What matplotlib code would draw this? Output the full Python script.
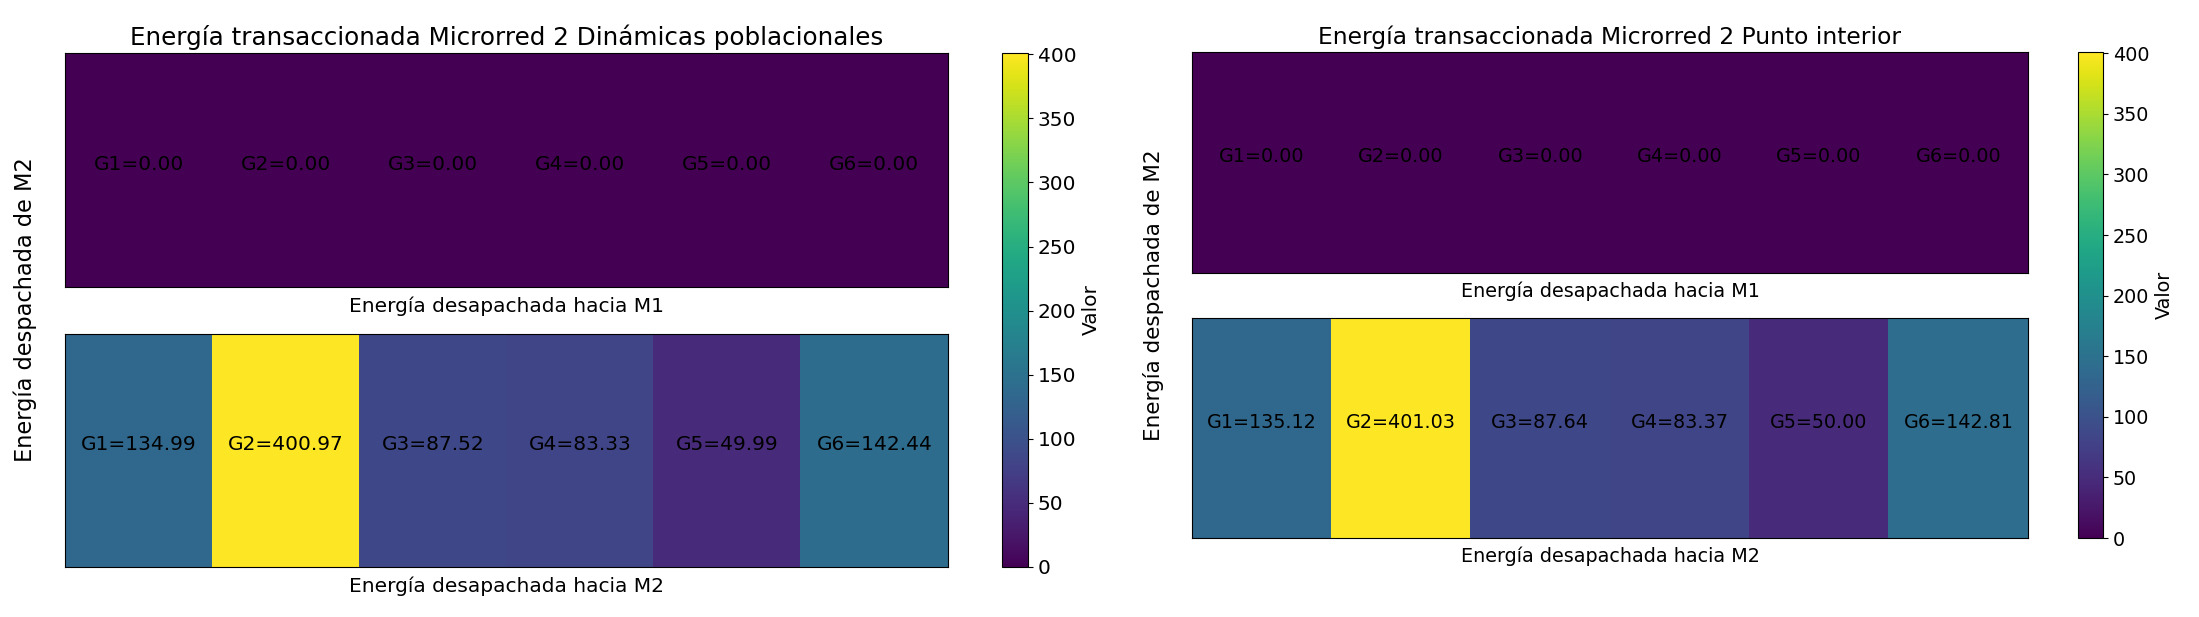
import matplotlib
matplotlib.use("Agg")
import matplotlib.pyplot as plt
import numpy as np

# Valores de energia por generador (G1..G6)
generadores = ["G1", "G2", "G3", "G4", "G5", "G6"]
dp_hacia_m1 = [0.00, 0.00, 0.00, 0.00, 0.00, 0.00]
dp_hacia_m2 = [134.99, 400.97, 87.52, 83.33, 49.99, 142.44]
pi_hacia_m1 = [0.00, 0.00, 0.00, 0.00, 0.00, 0.00]
pi_hacia_m2 = [135.12, 401.03, 87.64, 83.37, 50.00, 142.81]

titulos = ["Energía transaccionada Microrred 2 Dinámicas poblacionales",
           "Energía transaccionada Microrred 2 Punto interior"]
xlabels = ["Energía desapachada hacia M1", "Energía desapachada hacia M2"]
ylabel = "Energía despachada de M2"

W, H = 2199, 617
fig = plt.figure(figsize=(W / 100, H / 100), dpi=100)


def caja(x0, y0, x1, y1):
    # pixeles (origen arriba a la izquierda) -> fracciones de figura
    return [x0 / W, 1 - y1 / H, (x1 - x0) / W, (y1 - y0) / H]


def panel(filas, titulo, hm_x, top_y, bot_y, cb_x, ylab_x, fs, lbl_pad):
    vmax = max(max(f) for f in filas)
    ims = []
    axes = [fig.add_axes(caja(hm_x[0], top_y[0], hm_x[1], top_y[1])),
            fig.add_axes(caja(hm_x[0], bot_y[0], hm_x[1], bot_y[1]))]
    for ax, fila, xl in zip(axes, filas, xlabels):
        datos = np.array([fila])
        im = ax.imshow(datos, cmap="viridis", aspect="auto", vmin=0, vmax=vmax)
        ims.append(im)
        for j, v in enumerate(fila):
            ax.text(j, 0, f"{generadores[j]}={v:.2f}", ha="center",
                    fontsize=fs, color="black")
        ax.set_xticks([])
        ax.set_yticks([])
        ax.set_xlabel(xl, fontsize=fs, labelpad=lbl_pad)
    axes[0].set_title(titulo, fontsize=fs * 1.22, pad=6)
    cax = fig.add_axes(caja(cb_x[0], top_y[0], cb_x[1], bot_y[1]))
    cb = fig.colorbar(ims[1], cax=cax)
    cb.set_ticks(np.arange(0, 401, 50))
    cb.ax.tick_params(labelsize=fs)
    cb.set_label("Valor", fontsize=fs)
    yc = (top_y[0] + bot_y[1]) / 2
    fig.text(ylab_x / W, 1 - yc / H, ylabel, rotation=90, ha="center",
             va="center", fontsize=fs * 1.12)


panel([dp_hacia_m1, dp_hacia_m2], titulos[0], (65, 948), (53, 287), (334, 567),
      (1002, 1028), 25, 14.5, 7)
panel([pi_hacia_m1, pi_hacia_m2], titulos[1], (1192, 2028), (52, 273), (318, 538),
      (2078, 2103), 1153, 13.8, 6)

fig.savefig("out.png", dpi=100)
